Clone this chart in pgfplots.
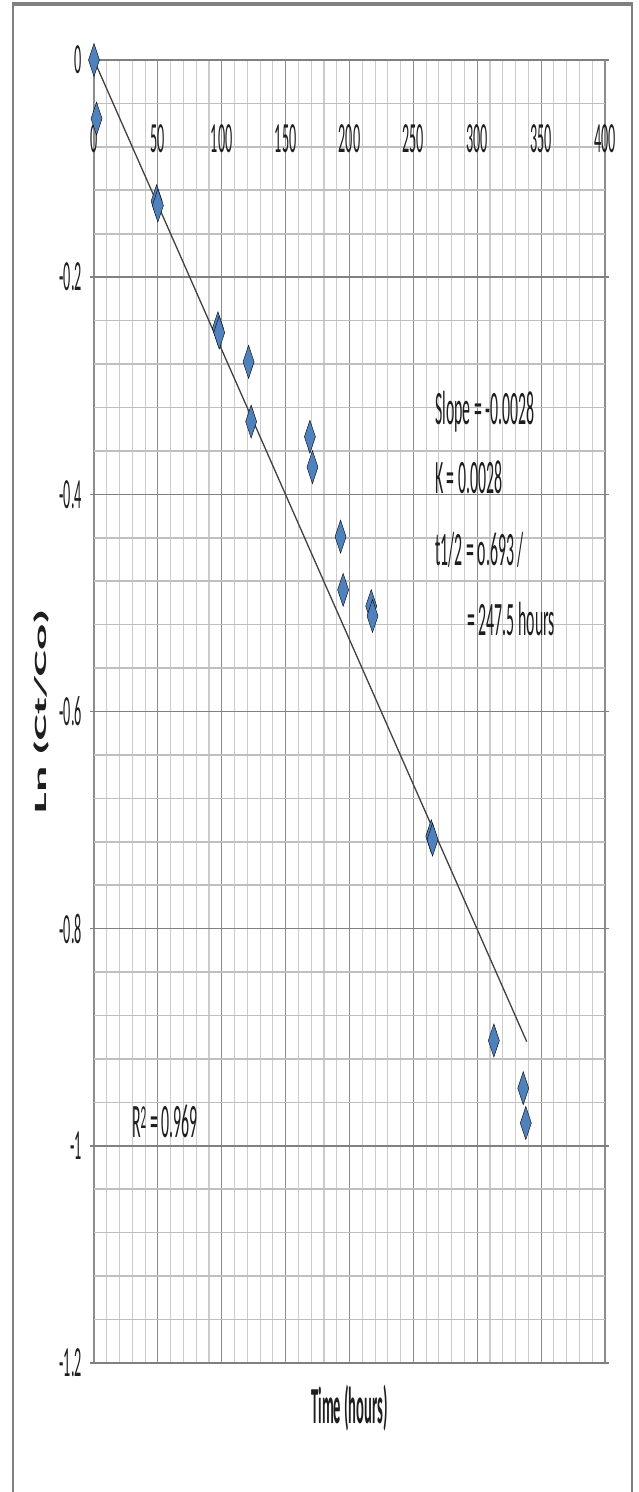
\documentclass[border=0pt]{standalone}
\usepackage{pgfplots}
\pgfplotsset{compat=1.18}
\usepackage{fontspec}
\setmainfont{Carlito}
\usepackage{graphicx}
\definecolor{xlblue}{RGB}{79,129,189}
\definecolor{txt}{RGB}{30,30,30}
\newcommand{\sq}[1]{\scalebox{0.33}[1]{#1}}
\newcommand{\tickfont}{\fontsize{43}{43}\selectfont\color{txt}}
\newcommand{\annfont}{\fontsize{48}{48}\selectfont\color{txt}}
\begin{document}
\begin{tikzpicture}[x=1pt,y=1pt]
\useasboundingbox (0,0) rectangle (638,1492);
\draw[black!50, line width=4pt] (13,1488) -- (632,1488);
\draw[black!50, line width=1.2pt] (13,0) -- (13,1490);
\draw[black!50, line width=1.2pt] (632,0) -- (632,1490);
\begin{axis}[
  at={(94pt,129pt)}, anchor=south west,
  scale only axis, width=511pt, height=1303pt,
  xmin=0, xmax=400, ymin=-1.2, ymax=0,
  clip=false,
  xtick={0,50,100,150,200,250,300,350,400},
  xticklabels={\sq{0},\sq{50},\sq{100},\sq{150},\sq{200},\sq{250},\sq{300},\sq{350},\sq{400}},
  ytick={-1.2,-1,-0.8,-0.6,-0.4,-0.2,0},
  yticklabels={\sq{-1.2},\sq{-1},\sq{-0.8},\sq{-0.6},\sq{-0.4},\sq{-0.2},\sq{0}},
  minor x tick num=4, minor y tick num=4,
  grid=both,
  major x grid style={black!45, line width=1.1pt},
  minor x grid style={black!20, line width=1.1pt},
  major y grid style={black!50, line width=1.6pt},
  minor y grid style={black!25, line width=1.6pt},
  axis line style={draw=none},
  tick align=outside,
  major tick length=4pt, minor tick length=0pt,
  xtick style={draw=none},
  ytick style={black!50, line width=1.6pt},
  xticklabel pos=upper,
  ticklabel style={font=\tickfont, inner sep=0pt},
  xticklabel style={anchor=center, yshift=-83pt},
  yticklabel style={anchor=east, xshift=-8pt},
  xlabel={\scalebox{0.28}[1]{\bfseries Time (hours)}},
  xlabel style={font=\fontsize{52}{52}\selectfont\color{txt}, at={(axis description cs:0.5,-0.0345)}, anchor=center, inner sep=0pt},
  ylabel={\scalebox{1}[0.35]{\bfseries Ln (Ct/Co)}},
  ylabel style={font=\fontsize{49}{49}\selectfont\color{txt}, at={(axis description cs:-0.1037,0.5)}, anchor=center, inner sep=0pt},
]
\addplot[black!75, line width=1.3pt] coordinates {(0,0) (338.7,-0.904)};
\addplot[only marks, mark=square*, mark size=11.7pt,
  mark options={xscale=0.333, rotate=45, fill=xlblue, draw=none}]
coordinates {
(0,0) (2,-0.054) (49,-0.130) (50,-0.134) (97,-0.247) (98,-0.251)
(121,-0.278) (123,-0.333) (169,-0.347) (171,-0.375) (193,-0.439)
(195,-0.488) (217,-0.503) (218,-0.512) (264,-0.715) (265,-0.718)
(313,-0.903) (336,-0.947) (338,-0.979)
};
\node[anchor=west, inner sep=0pt, font=\annfont] at (axis cs:266.9,-0.324) {\sq{Slope = -0.0028}};
\node[anchor=west, inner sep=0pt, font=\annfont] at (axis cs:266.9,-0.384) {\sq{K = 0.0028}};
\node[anchor=west, inner sep=0pt, font=\annfont] at (axis cs:266.9,-0.451) {\sq{t1/2 = o.693 /}};
\node[anchor=west, inner sep=0pt, font=\annfont] at (axis cs:292,-0.515) {\sq{= 247.5 hours}};
\node[anchor=west, inner sep=0pt, font=\annfont] at (axis cs:29.7,-0.978) {\sq{R\textsuperscript{2} = 0.969}};
\end{axis}
\end{tikzpicture}
\end{document}
